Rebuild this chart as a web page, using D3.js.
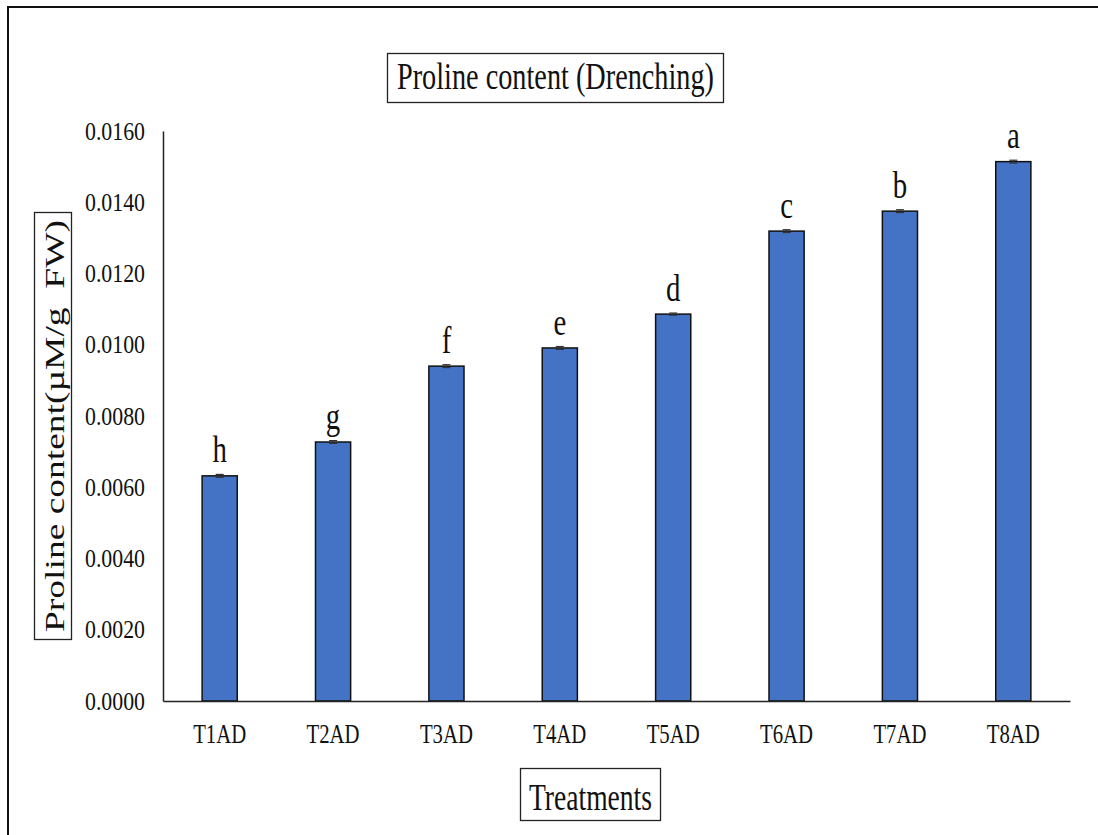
<!DOCTYPE html>
<html>
<head>
<meta charset="utf-8">
<script src="https://cdn.jsdelivr.net/npm/d3@7/dist/d3.min.js"></script>
<style>
  html, body { margin: 0; padding: 0; background: #fff; }
  svg text { font-family: "Liberation Serif", "Times New Roman", serif; fill: #111; }
</style>
</head>
<body>
<svg id="chart" width="1098" height="835"></svg>
<script>
// Treatments and their mean proline content (µM/g FW)
const treatments = ["T1AD", "T2AD", "T3AD", "T4AD", "T5AD", "T6AD", "T7AD", "T8AD"];
const proline    = [0.00632, 0.00727, 0.00940, 0.00991, 0.01086, 0.01319, 0.01375, 0.01514];
const stdErr     = [0.00004, 0.00004, 0.00004, 0.00004, 0.00003, 0.00004, 0.00004, 0.00004];
const groups     = ["h", "g", "f", "e", "d", "c", "b", "a"];
const yTicks     = [0, 0.002, 0.004, 0.006, 0.008, 0.010, 0.012, 0.014, 0.016];

const data = treatments.map((t, i) => ({ t, v: proline[i], se: stdErr[i], g: groups[i] }));

const svg = d3.select("#chart");
const plot = { left: 163, right: 1070, top: 131, bottom: 701 };

const x = d3.scaleBand()
  .domain(treatments)
  .range([plot.left, plot.right])
  .paddingInner(0.69)
  .paddingOuter(0.345);

const y = d3.scaleLinear()
  .domain([0, 0.016])
  .range([plot.bottom, plot.top]);

// outer frame
svg.append("rect")
  .attr("x", 8).attr("y", 7)
  .attr("width", 1300).attr("height", 1000)
  .attr("fill", "none").attr("stroke", "#111").attr("stroke-width", 2);

// title box
svg.append("rect")
  .attr("x", 387.5).attr("y", 53.5).attr("width", 336).attr("height", 49)
  .attr("fill", "none").attr("stroke", "#222").attr("stroke-width", 1.3);
svg.append("text")
  .attr("x", 555.5).attr("y", 89)
  .attr("text-anchor", "middle")
  .attr("font-size", 37)
  .attr("textLength", 317).attr("lengthAdjust", "spacingAndGlyphs")
  .text("Proline content (Drenching)");

// bars
svg.append("g").selectAll("rect")
  .data(data).join("rect")
  .attr("x", d => x(d.t))
  .attr("y", d => y(d.v))
  .attr("width", x.bandwidth())
  .attr("height", d => y(0) - y(d.v))
  .attr("fill", "#4472C4")
  .attr("stroke", "#111")
  .attr("stroke-width", 1.5);

// error bars
const eb = svg.append("g").attr("stroke", "#333").attr("stroke-width", 1.2);
data.forEach(d => {
  const cx = x(d.t) + x.bandwidth() / 2;
  eb.append("line").attr("x1", cx).attr("x2", cx).attr("y1", y(d.v + d.se)).attr("y2", y(d.v - d.se));
  eb.append("line").attr("x1", cx - 4).attr("x2", cx + 4).attr("y1", y(d.v + d.se)).attr("y2", y(d.v + d.se));
  eb.append("line").attr("x1", cx - 4).attr("x2", cx + 4).attr("y1", y(d.v - d.se)).attr("y2", y(d.v - d.se));
});

// significance letters
svg.append("g").selectAll("text")
  .data(data).join("text")
  .attr("transform", d => `translate(${x(d.t) + x.bandwidth() / 2},${y(d.v + d.se) - 12}) scale(0.78,1)`)
  .attr("text-anchor", "middle")
  .attr("font-size", 37)
  .text(d => d.g);

// y axis
const yAxis = svg.append("g")
  .attr("transform", `translate(${plot.left},0)`)
  .call(d3.axisLeft(y).tickValues(yTicks).tickFormat(d3.format(".4f")).tickSize(0).tickSizeOuter(0).tickPadding(18));
yAxis.select(".domain").attr("stroke", "#222").attr("stroke-width", 1.5);
yAxis.selectAll("text")
  .attr("font-size", 25)
  .attr("font-family", "Liberation Serif, serif")
  .attr("fill", "#111")
  .attr("textLength", 60).attr("lengthAdjust", "spacingAndGlyphs");

// x axis
const xAxis = svg.append("g")
  .attr("transform", `translate(0,${plot.bottom})`)
  .call(d3.axisBottom(x).tickSize(0).tickSizeOuter(0).tickPadding(23));
xAxis.select(".domain").attr("stroke", "#222").attr("stroke-width", 1.5);
xAxis.selectAll("text")
  .attr("font-size", 27)
  .attr("font-family", "Liberation Serif, serif")
  .attr("fill", "#111")
  .attr("textLength", 53).attr("lengthAdjust", "spacingAndGlyphs");

// x axis title
svg.append("rect")
  .attr("x", 520.5).attr("y", 768.5).attr("width", 140).attr("height", 52)
  .attr("fill", "none").attr("stroke", "#222").attr("stroke-width", 1.3);
svg.append("text")
  .attr("x", 590.5).attr("y", 810)
  .attr("text-anchor", "middle")
  .attr("font-size", 38)
  .attr("textLength", 123).attr("lengthAdjust", "spacingAndGlyphs")
  .text("Treatments");

// y axis title
svg.append("rect")
  .attr("x", 34.5).attr("y", 212.5).attr("width", 37).attr("height", 427)
  .attr("fill", "none").attr("stroke", "#222").attr("stroke-width", 1.3);
svg.append("text")
  .attr("transform", "translate(64,426) rotate(-90)")
  .attr("text-anchor", "middle")
  .attr("font-size", 27)
  .attr("textLength", 412).attr("lengthAdjust", "spacingAndGlyphs")
  .text("Proline content(µM/g\u00a0\u00a0FW)");
</script>
</body>
</html>
